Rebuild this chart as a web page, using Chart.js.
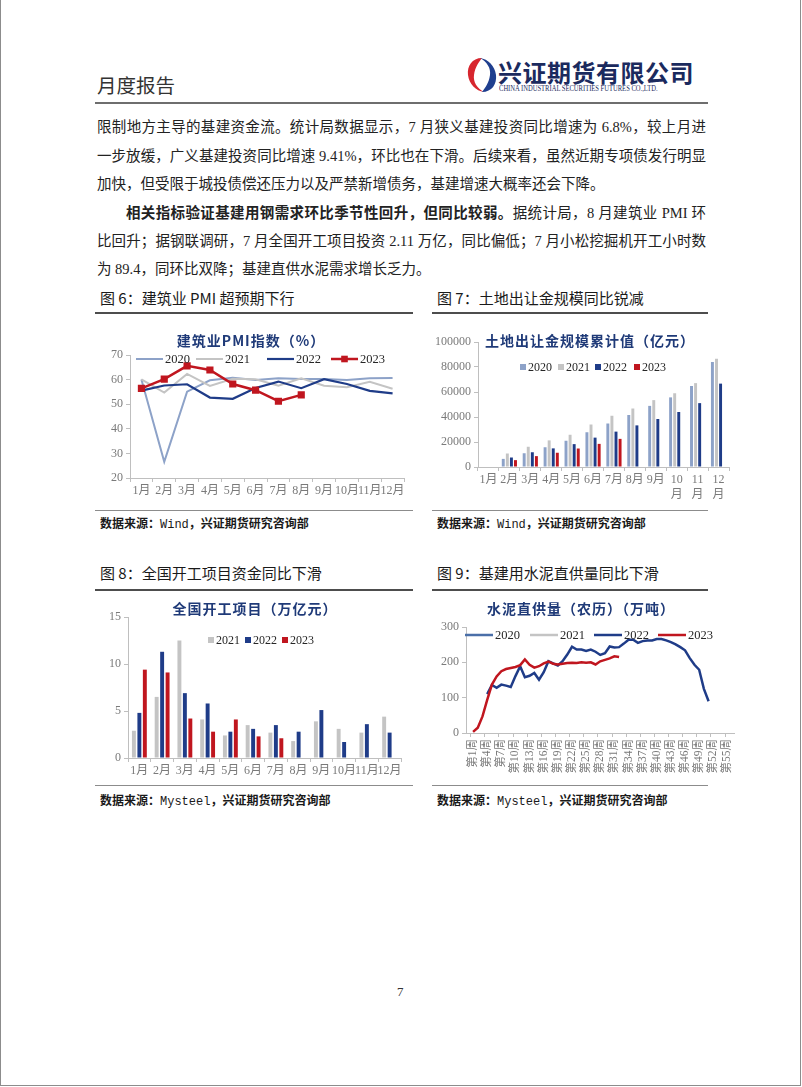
<!DOCTYPE html>
<html>
<head>
<meta charset="utf-8">
<script src="https://cdn.jsdelivr.net/npm/chart.js@4.4.0/dist/chart.umd.min.js"></script>
<style>
body { margin: 0; background: #fff; }
#page { position: relative; width: 802px; height: 1087px; overflow: hidden; background: #fff;
  font-family: "Liberation Serif", "Noto Sans CJK SC", serif; color: #222; }
#frame { position: absolute; left: 0; top: -2px; width: 799px; height: 1086px; border: 1px solid #8c8c8c; }
.a { position: absolute; white-space: nowrap; }
.line { position: absolute; }
.body { position: absolute; left: 97px; width: 609px; font-size: 14.5px; line-height: 20px; height: 20px;
  text-align: justify; text-align-last: justify; white-space: nowrap; }
.body.last { text-align-last: left; }
.cap { position: absolute; font-family: "Noto Sans CJK SC", sans-serif; font-size: 15px; line-height: 20px; color: #1a1a1a; }
.src { position: absolute; font-family: "Noto Sans CJK SC", sans-serif; font-weight: bold; font-size: 12px; line-height: 16px; color: #1a1a1a; }
.src span { font-family: "Liberation Mono", "DejaVu Sans Mono", monospace; font-weight: normal; }
.ttl { position: absolute; font-family: "Noto Sans CJK SC", sans-serif; font-weight: bold; font-size: 14px;
  line-height: 18px; color: #1f3a78; letter-spacing: 1px; white-space: nowrap; }
canvas { position: absolute; }
</style>
</head>
<body>
<div id="page">
  <div id="frame"></div>

  <div class="a" style="left:97px;top:73px;font-family:'Noto Sans CJK SC';font-size:19.5px;line-height:24px;color:#333;">月度报告</div>
  <svg style="position:absolute;left:467px;top:57px" width="30" height="36" viewBox="0 0 30 36">
    <path d="M15 1 C5 1 0 9 1 18 C2 27 9 34 17 35 C10 31 6 25 7 18 C8 10 12 5 15 1 Z" fill="#d7262e"/>
    <path d="M15 35 C25 35 30 27 29 18 C28 9 21 2 13 1 C20 5 24 11 23 18 C22 26 18 31 15 35 Z" fill="#1f3f8f"/>
  </svg>
  <div class="a" style="left:498px;top:57px;font-family:'Noto Sans CJK SC';font-weight:bold;font-size:24px;line-height:30px;color:#1b2a5e;letter-spacing:0.5px;">兴证期货有限公司</div>
  <div class="a" style="left:499px;top:84px;font-family:'Liberation Serif';font-size:8px;line-height:10px;color:#1b2a5e;transform-origin:0 0;transform:scaleX(0.82);">CHINA INDUSTRIAL SECURITIES FUTURES CO.,LTD.</div>
  <div class="line" style="left:95px;top:102px;width:613px;height:2px;background:#6e6e6e;"></div>

  <div class="body" style="top:117px;">限制地方主导的基建资金流。统计局数据显示，7 月狭义基建投资同比增速为 6.8%，较上月进</div>
  <div class="body" style="top:146px;">一步放缓，广义基建投资同比增速 9.41%，环比也在下滑。后续来看，虽然近期专项债发行明显</div>
  <div class="body last" style="top:174px;">加快，但受限于城投债偿还压力以及严禁新增债务，基建增速大概率还会下降。</div>
  <div class="body" style="top:203px;left:126px;width:580px;"><b>相关指标验证基建用钢需求环比季节性回升，但同比较弱。</b>据统计局，8 月建筑业 PMI 环</div>
  <div class="body" style="top:231px;">比回升；据钢联调研，7 月全国开工项目投资 2.11 万亿，同比偏低；7 月小松挖掘机开工小时数</div>
  <div class="body last" style="top:259px;">为 89.4，同环比双降；基建直供水泥需求增长乏力。</div>

  <div class="cap" style="left:100px;top:288px;">图 6：建筑业 PMI 超预期下行</div>
  <div class="cap" style="left:437px;top:288px;">图 7：土地出让金规模同比锐减</div>
  <div class="line" style="left:95px;top:312px;width:318px;height:2px;background:#4d4d4d;"></div>
  <div class="line" style="left:432px;top:312px;width:276px;height:2px;background:#4d4d4d;"></div>

  <div class="line" style="left:95px;top:510px;width:318px;height:1px;background:#8c8c8c;"></div>
  <div class="line" style="left:432px;top:510px;width:276px;height:1px;background:#8c8c8c;"></div>
  <div class="src" style="left:100px;top:515px;">数据来源：<span>Wind</span>，兴证期货研究咨询部</div>
  <div class="src" style="left:437px;top:515px;">数据来源：<span>Wind</span>，兴证期货研究咨询部</div>

  <div class="cap" style="left:100px;top:563px;">图 8：全国开工项目资金同比下滑</div>
  <div class="cap" style="left:437px;top:563px;">图 9：基建用水泥直供量同比下滑</div>
  <div class="line" style="left:95px;top:589px;width:318px;height:2px;background:#4d4d4d;"></div>
  <div class="line" style="left:432px;top:589px;width:276px;height:2px;background:#4d4d4d;"></div>

  <div class="line" style="left:95px;top:785px;width:318px;height:1px;background:#8c8c8c;"></div>
  <div class="line" style="left:432px;top:785px;width:276px;height:1px;background:#8c8c8c;"></div>
  <div class="src" style="left:100px;top:792px;">数据来源：<span>Mysteel</span>，兴证期货研究咨询部</div>
  <div class="src" style="left:437px;top:792px;">数据来源：<span>Mysteel</span>，兴证期货研究咨询部</div>

  <canvas id="pmi" width="318" height="187" style="left:95px;top:318px;"></canvas>
  <canvas id="land" width="300" height="187" style="left:432px;top:318px;"></canvas>
  <canvas id="starts" width="318" height="188" style="left:95px;top:595px;"></canvas>
  <canvas id="cement" width="316" height="195" style="left:432px;top:595px;"></canvas>

  <div class="ttl" style="left:251px;top:331px;transform:translateX(-50%);">建筑业PMI指数（%）</div>
  <div class="ttl" style="left:485px;top:331px;">土地出让金规模累计值（亿元）</div>
  <div class="ttl" style="left:255px;top:599px;transform:translateX(-50%);">全国开工项目（万亿元）</div>
  <div class="ttl" style="left:581px;top:599px;transform:translateX(-50%);">水泥直供量（农历）（万吨）</div>

  <div class="a" style="left:397px;top:983px;font-size:13px;line-height:18px;color:#333;">7</div>
</div>

<script>
// 月份
const months = ['1月', '2月', '3月', '4月', '5月', '6月', '7月', '8月', '9月', '10月', '11月', '12月'];

// 建筑业PMI (%)
const pmi2020 = [60.0, 26.6, 55.1, 59.7, 60.8, 59.8, 60.5, 60.2, 60.2, 59.8, 60.5, 60.7];
const pmi2021 = [60.1, 54.7, 62.3, 57.4, 60.3, 60.1, 57.5, 60.5, 57.5, 56.9, 59.1, 56.3];
const pmi2022 = [55.5, 57.6, 58.1, 52.7, 52.2, 56.6, 59.2, 56.5, 60.2, 58.2, 55.4, 54.4];
const pmi2023 = [56.4, 60.2, 65.6, 63.9, 58.2, 55.7, 51.2, 53.8];

// 土地出让金累计值 (亿元)
const land2020 = [null, 6500, 11000, 15800, 21000, 27800, 34800, 41600, 48900, 55700, 64800, 84000];
const land2021 = [null, 10800, 16200, 21300, 25800, 34000, 41000, 46800, 53500, 59000, 67100, 86600];
const land2022 = [null, 7600, 11800, 14900, 18300, 23500, 28300, 33300, 38400, 44000, 51100, 66700];
const land2023 = [null, 5500, 8700, 11400, 14800, 18500, 22500];

// 全国开工项目 (万亿元)
const starts2021 = [2.9, 6.5, 12.5, 4.1, 2.4, 3.5, 2.7, 1.8, 3.9, 3.1, 2.7, 4.4];
const starts2022 = [4.8, 11.3, 6.9, 5.8, 2.8, 3.1, 3.5, 2.8, 5.1, 1.7, 3.6, 2.7];
const starts2023 = [9.4, 9.1, 4.2, 2.8, 4.1, 2.3, 2.1];

// 水泥直供量 农历周 (万吨)，第0周起
const weeks = Array.from({ length: 57 }, (_, i) => '第' + i + '周');
const cement2020 = [];
const cement2021 = [];
const cement2022 = [null, null, null, null, 110, 136, 128, 137, 134, 130, 161, 189, 158, 162, 170, 151, 172, 203,
  197, 191, 203, 222, 244, 236, 236, 232, 236, 230, 221, 226, 245, 242, 243, 253, 264, 264, 255, 260,
  262, 262, 266, 266, 262, 257, 251, 243, 234, 212, 193, 179, 125, 90];
const cement2023 = [null, 3, 15, 47, 94, 137, 160, 175, 181, 184, 187, 192, 208, 193, 185, 189, 197, 202,
  196, 194, 196, 198, 199, 198, 200, 199, 200, 194, 203, 207, 211, 217, 215];

const C20 = '#8da2c8', C21 = '#c4c4c4', C22 = '#1f3c88', C23 = '#c0161f';
const AXIS = '#bfbfbf';

Chart.defaults.font.family = '"Liberation Serif", "Noto Sans CJK SC", serif';
Chart.defaults.font.size = 12;
Chart.defaults.color = '#7a7a7a';

// legend drawn inside the plot, like the original
const inLegend = {
  id: 'inLegend',
  afterDraw(chart, args, o) {
    if (!o.xs) return;
    const ctx = chart.ctx;
    ctx.save();
    ctx.font = (o.size || 12) + 'px "Liberation Serif"';
    ctx.textBaseline = 'middle';
    chart.data.datasets.forEach((ds, i) => {
      const x = o.xs[i], y = o.y;
      if (o.kind === 'line') {
        ctx.strokeStyle = ds.borderColor;
        ctx.lineWidth = ds.borderWidth;
        ctx.beginPath(); ctx.moveTo(x, y); ctx.lineTo(x + o.len, y); ctx.stroke();
        if (ds.pointRadius) {
          const r = ds.pointRadius;
          ctx.fillStyle = ds.borderColor;
          ctx.fillRect(x + o.len / 2 - r, y - r, 2 * r, 2 * r);
        }
        ctx.fillStyle = '#262626';
        ctx.fillText(ds.label, x + o.len + 2, y + 1);
      } else {
        ctx.fillStyle = ds.backgroundColor;
        ctx.fillRect(x, y - 3, 6, 6);
        ctx.fillStyle = '#262626';
        ctx.fillText(ds.label, x + 8, y + 1);
      }
    });
    ctx.restore();
  }
};
Chart.register(inLegend);

function yAxis(min, max, step, width) {
  return {
    min: min, max: max,
    ticks: { stepSize: step, padding: 3, callback: v => String(v) },
    grid: { display: true, drawOnChartArea: false, tickLength: 4, color: AXIS },
    border: { color: AXIS },
    afterFit: s => { s.width = width; }
  };
}
function xAxis(height) {
  return {
    offset: true,
    grid: { display: true, offset: true, drawOnChartArea: false, tickLength: 4, color: AXIS },
    border: { color: AXIS },
    ticks: { autoSkip: false, maxRotation: 0, padding: 2 },
    afterFit: s => { s.height = height; }
  };
}
const base = { responsive: false, animation: false, events: [] };

// 图6 建筑业PMI
new Chart(document.getElementById('pmi'), {
  type: 'line',
  data: {
    labels: months,
    datasets: [
      { label: '2020', data: pmi2020, borderColor: C20, borderWidth: 2, pointRadius: 0, order: 4 },
      { label: '2021', data: pmi2021, borderColor: C21, borderWidth: 2, pointRadius: 0, order: 3 },
      { label: '2022', data: pmi2022, borderColor: C22, borderWidth: 2.2, pointRadius: 0, order: 2 },
      { label: '2023', data: pmi2023, borderColor: C23, backgroundColor: C23, borderWidth: 2.5,
        pointStyle: 'rect', pointRadius: 3.3, pointBackgroundColor: C23, order: 1 }
    ]
  },
  options: {
    ...base,
    layout: { padding: { top: 37, right: 9, left: 0, bottom: 0 } },
    plugins: { legend: { display: false }, tooltip: { enabled: false },
      inLegend: { kind: 'line', xs: [41, 101, 172, 236], y: 41, len: 27, size: 12.5 } },
    scales: { x: xAxis(27), y: yAxis(20, 70, 10, 35) }
  }
});

// 图7 土地出让金
const landX = xAxis(38);
landX.ticks.callback = (v, i) => months[i].length > 2 ? [months[i].slice(0, -1), '月'] : months[i];
new Chart(document.getElementById('land'), {
  type: 'bar',
  data: {
    labels: months,
    datasets: [
      { label: '2020', data: land2020, backgroundColor: C20 },
      { label: '2021', data: land2021, backgroundColor: C21 },
      { label: '2022', data: land2022, backgroundColor: C22 },
      { label: '2023', data: land2023, backgroundColor: C23 }
    ]
  },
  options: {
    ...base,
    datasets: { bar: { categoryPercentage: 0.78, barPercentage: 0.72 } },
    layout: { padding: { top: 24, right: 3, left: 0, bottom: 0 } },
    plugins: { legend: { display: false }, tooltip: { enabled: false },
      inLegend: { kind: 'box', xs: [88, 126, 163, 202], y: 49, size: 12 } },
    scales: { x: landX, y: yAxis(0, 100000, 20000, 46) }
  }
});

// 图8 全国开工项目
new Chart(document.getElementById('starts'), {
  type: 'bar',
  data: {
    labels: months,
    datasets: [
      { label: '2021', data: starts2021, backgroundColor: C21 },
      { label: '2022', data: starts2022, backgroundColor: C22 },
      { label: '2023', data: starts2023, backgroundColor: C23 }
    ]
  },
  options: {
    ...base,
    datasets: { bar: { categoryPercentage: 0.72, barPercentage: 0.72 } },
    layout: { padding: { top: 22, right: 12, left: 0, bottom: 0 } },
    plugins: { legend: { display: false }, tooltip: { enabled: false },
      inLegend: { kind: 'box', xs: [113, 150, 187], y: 45, size: 12 } },
    scales: { x: xAxis(25), y: yAxis(0, 15, 5, 33) }
  }
});

// 图9 水泥直供量
const cementX = xAxis(57);
cementX.ticks = { autoSkip: false, minRotation: 90, maxRotation: 90, padding: 2, font: { size: 11.5 },
  callback: (v, i) => i % 3 === 1 ? weeks[i] : '' };
cementX.grid.tickColor = c => c.index % 3 === 1 ? AXIS : 'rgba(0,0,0,0)';
new Chart(document.getElementById('cement'), {
  type: 'line',
  data: {
    labels: weeks,
    datasets: [
      { label: '2020', data: cement2020, borderColor: '#4a6fa8', borderWidth: 2.5, pointRadius: 0, order: 4 },
      { label: '2021', data: cement2021, borderColor: C21, borderWidth: 2.5, pointRadius: 0, order: 3 },
      { label: '2022', data: cement2022, borderColor: C22, borderWidth: 2.5, pointRadius: 0, order: 2 },
      { label: '2023', data: cement2023, borderColor: C23, borderWidth: 2.5, pointRadius: 0, order: 1 }
    ]
  },
  options: {
    ...base,
    layout: { padding: { top: 32, right: 6, left: 0, bottom: 0 } },
    plugins: { legend: { display: false }, tooltip: { enabled: false },
      inLegend: { kind: 'line', xs: [33, 98, 162, 226], y: 40, len: 28, size: 12.5 } },
    scales: { x: cementX, y: yAxis(0, 300, 100, 34) }
  }
});
</script>
</body>
</html>
